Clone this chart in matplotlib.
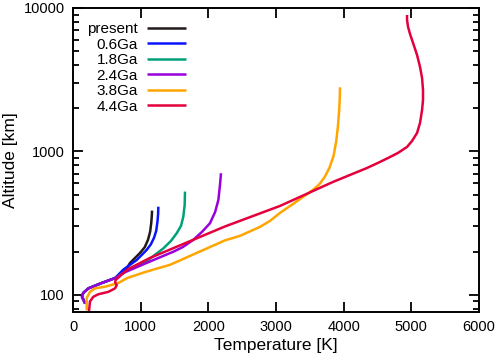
import matplotlib
matplotlib.use("Agg")
import matplotlib.pyplot as plt
from matplotlib.ticker import LogLocator, FixedLocator, NullFormatter

plt.rcParams["font.family"] = ["Liberation Sans", "DejaVu Sans"]

labels = ["present", "0.6Ga", "1.8Ga", "2.4Ga", "3.8Ga", "4.4Ga"]
colors = ["#231a1a", "#0a14ff", "#00a07a", "#9a00dc", "#ffa500", "#e4003c"]

# temperature [K] / altitude [km], bottom to top
t_present = [180, 135, 150, 226, 424, 621, 769, 843, 990, 1060, 1108, 1140, 1157, 1165, 1168]
z_present = [87, 97, 103, 111, 121, 131, 147, 167, 196, 215, 242, 276, 320, 360, 387]

t_06 = [180, 135, 150, 226, 424, 621, 744, 941, 1089, 1150, 1197, 1230, 1250, 1258, 1261]
z_06 = [87, 97, 103, 111, 121, 131, 150, 175, 206, 225, 250, 280, 330, 370, 412]

t_18 = [180, 135, 150, 226, 424, 621, 843, 1089, 1335, 1448, 1532, 1596, 1630, 1650, 1655]
z_18 = [87, 97, 103, 111, 121, 131, 152, 172, 211, 238, 269, 303, 351, 424, 525]

t_24 = [180, 130, 150, 226, 424, 621, 769, 1138, 1483, 1626, 1778, 1906, 2024,
        2100, 2148, 2172, 2187]
z_24 = [87, 97, 103, 111, 121, 131, 144, 171, 200, 216, 242, 275, 316,
        378, 459, 585, 705]

t_38 = [202, 202, 251, 325, 473, 670, 800, 1039, 1187, 1433, 2246, 2468, 2763, 2911,
        3059, 3296, 3547, 3640, 3720, 3790, 3850, 3890, 3915, 3932, 3942, 3946]
z_38 = [78, 95, 105, 111, 114, 121, 131, 143, 150, 162, 240, 258, 298, 328,
        373, 445, 540, 590, 665, 770, 930, 1180, 1500, 1900, 2350, 2800]

t_44 = [236, 251, 300, 374, 522, 621, 646, 621, 631, 700, 800, 1138, 2246, 3059,
        3842, 4345, 4537, 4685, 4803, 4936, 5010, 5084, 5128, 5158, 5172, 5172,
        5158, 5128, 5084, 5025, 4980, 4951, 4936, 4936]
z_44 = [76.5, 90, 97, 101, 105, 111, 117, 123, 127, 136, 150, 181, 300, 417,
        613, 767, 845, 915, 977, 1075, 1183, 1345, 1581, 1947, 2285, 2683,
        3250, 3880, 4700, 5700, 6590, 7380, 8250, 8940]

temps = [t_present, t_06, t_18, t_24, t_38, t_44]
alts = [z_present, z_06, z_18, z_24, z_38, z_44]

fig = plt.figure(figsize=(4.99, 3.58), dpi=100)
ax = fig.add_axes([0.1463, 0.1285, 0.8137, 0.8492])

for t, z, c, lab in zip(temps, alts, colors, labels):
    ax.plot(t, z, color=c, lw=1.8, label=lab, solid_capstyle="butt",
            solid_joinstyle="round")

ax.set_yscale("log")
ax.set_xlim(0, 6000)
ax.set_ylim(76, 10000)
ax.xaxis.set_major_locator(FixedLocator([0, 1000, 2000, 3000, 4000, 5000, 6000]))
ax.yaxis.set_major_locator(FixedLocator([100, 1000, 10000]))
ax.yaxis.set_minor_locator(LogLocator(base=10, subs=range(2, 10)))
ax.yaxis.set_minor_formatter(NullFormatter())
ax.set_yticklabels(["100", "1000", "10000"])

ax.tick_params(which="both", direction="in", top=True, right=True, width=1.3,
               labelsize=10.5, pad=6)
ax.tick_params(which="major", length=7)
ax.tick_params(which="minor", length=4)
for s in ax.spines.values():
    s.set_linewidth(1.4)

ax.set_xlabel("Temperature [K]", fontsize=12.5, labelpad=3)
ax.set_ylabel("Altitude [km]", fontsize=12.5, labelpad=4)

ax.legend(loc="upper left", markerfirst=False, frameon=False, fontsize=11,
          handlelength=2.55, handletextpad=0.6, labelspacing=0.1,
          borderaxespad=0.2, bbox_to_anchor=(0.012, 0.984))

fig.savefig("out.png", dpi=100)
